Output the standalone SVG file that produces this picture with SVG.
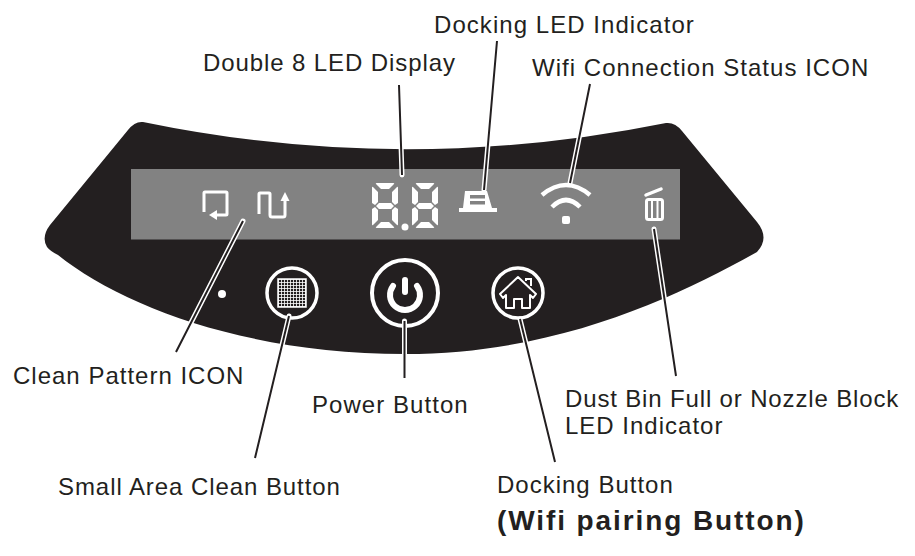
<svg xmlns="http://www.w3.org/2000/svg" width="915" height="556" viewBox="0 0 915 556">
<defs>
<style>
.lbl{font-family:"Liberation Sans",Arial,sans-serif;font-size:24px;fill:#231f20;letter-spacing:1px}
.halo{fill:none;stroke:#fff;stroke-width:5;stroke-linecap:round}
.ln{fill:none;stroke:#231f20;stroke-width:2;stroke-linecap:butt}
.ic{fill:none;stroke:#fff;stroke-width:3;stroke-linejoin:round}
.seg{fill:#fff}
</style>
<pattern id="grid" width="3" height="3" patternUnits="userSpaceOnUse" x="278" y="279"><rect width="3" height="3" fill="#231f20"/><path d="M0 .5H3M.5 0V3" stroke="#fff" stroke-width=".8"/></pattern>
<g id="digit"><path class="seg" d="M5 0h16q2 0 1 1l-5 5H9L4 1q-1-1 1-1zM1 4l5 5v10l-3 3-3-2V5q0-2 1-1zM25 4l-5 5v10l3 3 3-2V5q0-2-1-1zM7 20h12l3 3-3 3H7l-3-3zM3 24l3 3v10l-5 5q-1 1-1-1V26zM23 24l-3 3v10l5 5q1 1 1-1V26zM9 39h8l5 5q1 1-1 1H5q-2 0-1-1z"/></g>
</defs>
<rect width="915" height="556" fill="#fff"/>
<g id="panel">
<path d="M143 122Q404 176 666 123Q675 122 682 131L757 222Q770 238 757 252C680 295 560 354 405 354C245 354 120 305 58 255Q50 251 47 247Q41 237 50 225L128 130Q135 121 143 122Z" fill="#231f20"/>
<rect x="131" y="169" width="549" height="70.500" fill="#828282"/>
</g>
<g id="icon-clean-pattern">
<path class="ic" d="M204 212V193Q204 192 205 192H226Q227 192 227 193V214Q227 215 226 215H215"/>
<path class="seg" d="M209 215l8-5v10z"/>
<path class="ic" d="M259 214V194Q259 193 260 193H269Q270 193 270 194V215Q270 217 272 217H283Q285 217 285 215V200"/>
<path class="seg" d="M285 192l4.500 9h-9z"/>
</g>
<g id="icon-display">
<use href="#digit" x="372" y="183"/>
<use href="#digit" x="412" y="183"/>
<circle class="seg" cx="405" cy="227" r="3.500"/>
</g>
<g id="icon-docking">
<path class="seg" d="M459 212V208H463L465 191H487L492 208H497V212Z"/>
<path d="M470 195h15v3.500h-15zM470 201h15v3.500h-15z" fill="#828282"/>
</g>
<g id="icon-wifi">
<path d="M542 195Q566 175 590 195" fill="none" stroke="#fff" stroke-width="4.500"/>
<path d="M552 207Q566 193 580 207" fill="none" stroke="#fff" stroke-width="4.500"/>
<rect x="562" y="216" width="8" height="8" rx="2" fill="#fff"/>
</g>
<g id="icon-bin">
<path d="M646 195L661 189" stroke="#fff" stroke-width="3.500" stroke-linecap="round"/>
<rect x="646.500" y="199.500" width="16" height="20" rx="2" fill="none" stroke="#fff" stroke-width="3"/>
<path d="M652 200v19M657.500 200v19" stroke="#fff" stroke-width="2"/>
</g>
<g id="dot"><circle cx="222" cy="294" r="4" fill="#fff"/></g>
<g id="btn-small">
<circle cx="292" cy="293" r="25" fill="#231f20" stroke="#fff" stroke-width="3.500"/>
<rect x="278" y="279" width="28" height="28" fill="url(#grid)" stroke="#fff" stroke-width="1.500"/>
</g>
<g id="btn-power">
<circle cx="405" cy="293" r="33" fill="#231f20" stroke="#fff" stroke-width="4"/>
<path d="M393 286A15 15 0 1 0 417 286" fill="none" stroke="#fff" stroke-width="6" stroke-linecap="round"/>
<path d="M405 280V292" stroke="#fff" stroke-width="6" stroke-linecap="round"/>
</g>
<g id="btn-dock">
<circle cx="518" cy="293" r="25" fill="#231f20" stroke="#fff" stroke-width="3.500"/>
<path d="M500 294L518 277L536 294L533 298L530 295V308H522V299H514V308H506V295L503 298Z" fill="none" stroke="#fff" stroke-width="2" stroke-linejoin="round"/>
<path d="M526 281V279H531V286" fill="none" stroke="#fff" stroke-width="2"/>
</g>
<g id="connectors">
<path class="halo" d="M402 175L399 85M484 190L497 41M570 183L590 84M243 221L176 352M654 229L676 376M289 316L255 458M404.500 321V378M520 319L555 462"/>
<path class="ln" d="M402 175L399 85M484 190L497 41M570 183L590 84M243 221L176 352M654 229L676 376M289 316L255 458M404.500 321V378M520 319L555 462"/>
</g>
<g id="labels">
<text class="lbl" x="434" y="33" style="letter-spacing:1.05px">Docking LED Indicator</text>
<text class="lbl" x="203" y="71" style="letter-spacing:.9px">Double 8 LED Display</text>
<text class="lbl" x="532" y="76" style="letter-spacing:1.03px">Wifi Connection Status ICON</text>
<text class="lbl" x="13" y="384">Clean Pattern ICON</text>
<text class="lbl" x="312" y="413" style="letter-spacing:1.05px">Power Button</text>
<text class="lbl" x="565" y="407" style="letter-spacing:.85px">Dust Bin Full or Nozzle Block</text>
<text class="lbl" x="565" y="434">LED Indicator</text>
<text class="lbl" x="58" y="495" style="letter-spacing:.93px">Small Area Clean Button</text>
<text class="lbl" x="497" y="493">Docking Button</text>
<text class="lbl" x="497" y="530" style="font-size:28px;font-weight:bold;letter-spacing:1.9px">(Wifi pairing Button)</text>
</g>
</svg>
